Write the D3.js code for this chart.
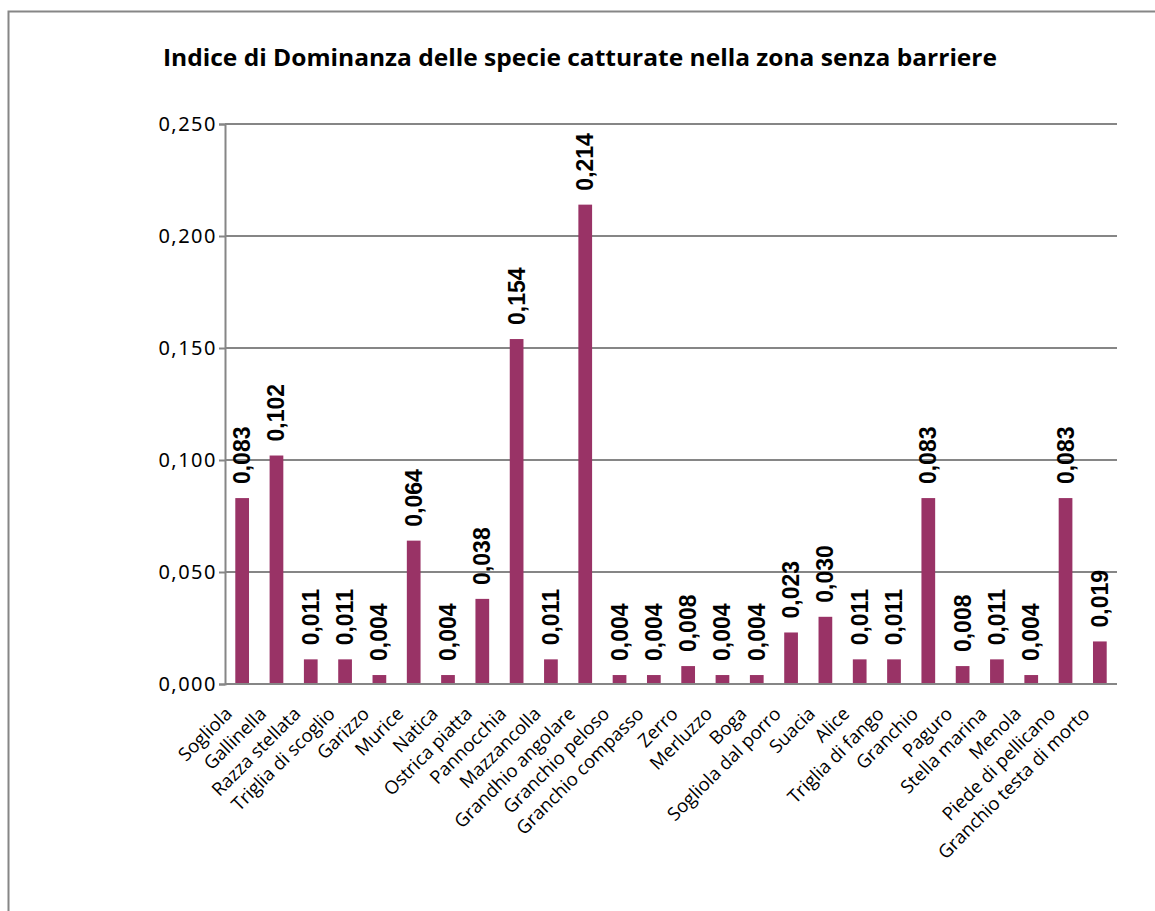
<!DOCTYPE html>
<html lang="it">
<head>
<meta charset="UTF-8">
<title>Indice di Dominanza</title>
<style>
  body { margin: 0; background: #fff; }
  .tick text { fill: #000; }
</style>
</head>
<body>
<script src="https://d3js.org/d3.v7.min.js"></script>
<script>
  // dati
  let specie = ['Sogliola', 'Gallinella', 'Razza stellata', 'Triglia di scoglio', 'Garizzo', 'Murice', 'Natica',
    'Ostrica piatta', 'Pannocchia', 'Mazzancolla', 'Grandhio angolare', 'Granchio peloso', 'Granchio compasso',
    'Zerro', 'Merluzzo', 'Boga', 'Sogliola dal porro', 'Suacia', 'Alice', 'Triglia di fango', 'Granchio',
    'Paguro', 'Stella marina', 'Menola', 'Piede di pellicano', 'Granchio testa di morto'];
  let dominanza = [0.083, 0.102, 0.011, 0.011, 0.004, 0.064, 0.004, 0.038, 0.154, 0.011, 0.214, 0.004, 0.004,
    0.008, 0.004, 0.004, 0.023, 0.030, 0.011, 0.011, 0.083, 0.008, 0.011, 0.004, 0.083, 0.019];
  let yTicks = [0, 0.05, 0.1, 0.15, 0.2, 0.25];
  let titolo = 'Indice di Dominanza delle specie catturate nella zona senza barriere';

  let width = 1155;
  let height = 911;
  let padding = { top: 124, right: 38, bottom: 227, left: 225 };
  let fmt = function(v) { return d3.format('.3f')(v).replace('.', ','); };

  let svg = d3.select('body')
      .append('svg')
      .attr('width', width)
      .attr('height', height);

  // cornice
  svg.append('rect')
      .attr('x', 8.5).attr('y', 11.5)
      .attr('width', width + 20).attr('height', height + 20)
      .attr('fill', 'none')
      .attr('stroke', '#868686')
      .attr('stroke-width', 2);

  let xScale = d3.scaleBand()
      .domain(specie)
      .range([padding.left, width - padding.right])
      .paddingInner(0.6)
      .paddingOuter(0.3);
  let yScale = d3.scaleLinear()
      .domain([0, 0.25])
      .range([height - padding.bottom, padding.top]);

  // griglia
  svg.append('g')
      .selectAll('line')
      .data(yTicks)
      .enter()
      .append('line')
      .attr('x1', padding.left)
      .attr('x2', width - padding.right)
      .attr('y1', function(d) { return yScale(d); })
      .attr('y2', function(d) { return yScale(d); })
      .attr('stroke', '#868686')
      .attr('stroke-width', 2);

  let yAxis = d3.axisLeft(yScale)
      .tickValues(yTicks)
      .tickFormat(fmt)
      .tickSize(6)
      .tickPadding(2);
  let gy = svg.append('g')
      .attr('transform', 'translate(' + padding.left + ',0)')
      .call(yAxis);
  gy.selectAll('.tick line').attr('stroke', '#868686').attr('stroke-width', 2);
  gy.select('.domain').attr('stroke', '#868686').attr('stroke-width', 2);
  gy.selectAll('text')
      .attr('font-family', 'Noto Sans, sans-serif')
      .attr('font-size', '20px')
      .attr('letter-spacing', '1.5px')
      .attr('dy', '0.3em');

  let xAxis = d3.axisBottom(xScale).tickSize(0).tickPadding(10);
  let gx = svg.append('g')
      .attr('transform', 'translate(0,' + yScale(0) + ')')
      .call(xAxis);
  gx.select('.domain').remove();
  gx.selectAll('text')
      .attr('font-family', 'Open Sans, sans-serif')
      .attr('font-size', '18.5px')
      .attr('text-anchor', 'end')
      .attr('dy', '0.3em')
      .attr('transform', 'translate(-20,20) rotate(-45)');

  // barre
  svg.append('g')
      .selectAll('rect')
      .data(dominanza)
      .enter()
      .append('rect')
      .attr('x', function(d, i) { return xScale(specie[i]); })
      .attr('y', function(d) { return yScale(d); })
      .attr('width', xScale.bandwidth())
      .attr('height', function(d) { return yScale(0) - yScale(d); })
      .attr('fill', '#993366');

  // asse x
  svg.append('line')
      .attr('x1', padding.left).attr('x2', width - padding.right)
      .attr('y1', yScale(0)).attr('y2', yScale(0))
      .attr('stroke', '#868686').attr('stroke-width', 2);

  // etichette
  svg.append('g')
      .selectAll('text')
      .data(dominanza)
      .enter()
      .append('text')
      .text(function(d) { return fmt(d); })
      .attr('transform', function(d, i) {
        return 'translate(' + (xScale(specie[i]) + xScale.bandwidth() / 2 + 8) + ',' + (yScale(d) - 14) + ') rotate(-90)';
      })
      .attr('font-family', 'Liberation Sans, Arial, sans-serif')
      .attr('font-weight', 'bold')
      .attr('font-size', '23px')
      .attr('fill', '#000');

  svg.append('text')
      .text(titolo)
      .attr('x', 580)
      .attr('y', 66)
      .attr('text-anchor', 'middle')
      .attr('font-family', 'Open Sans, sans-serif')
      .attr('font-weight', 'bold')
      .attr('font-size', '24px')
      .attr('textLength', 834)
      .attr('lengthAdjust', 'spacingAndGlyphs');
</script>
</body>
</html>
